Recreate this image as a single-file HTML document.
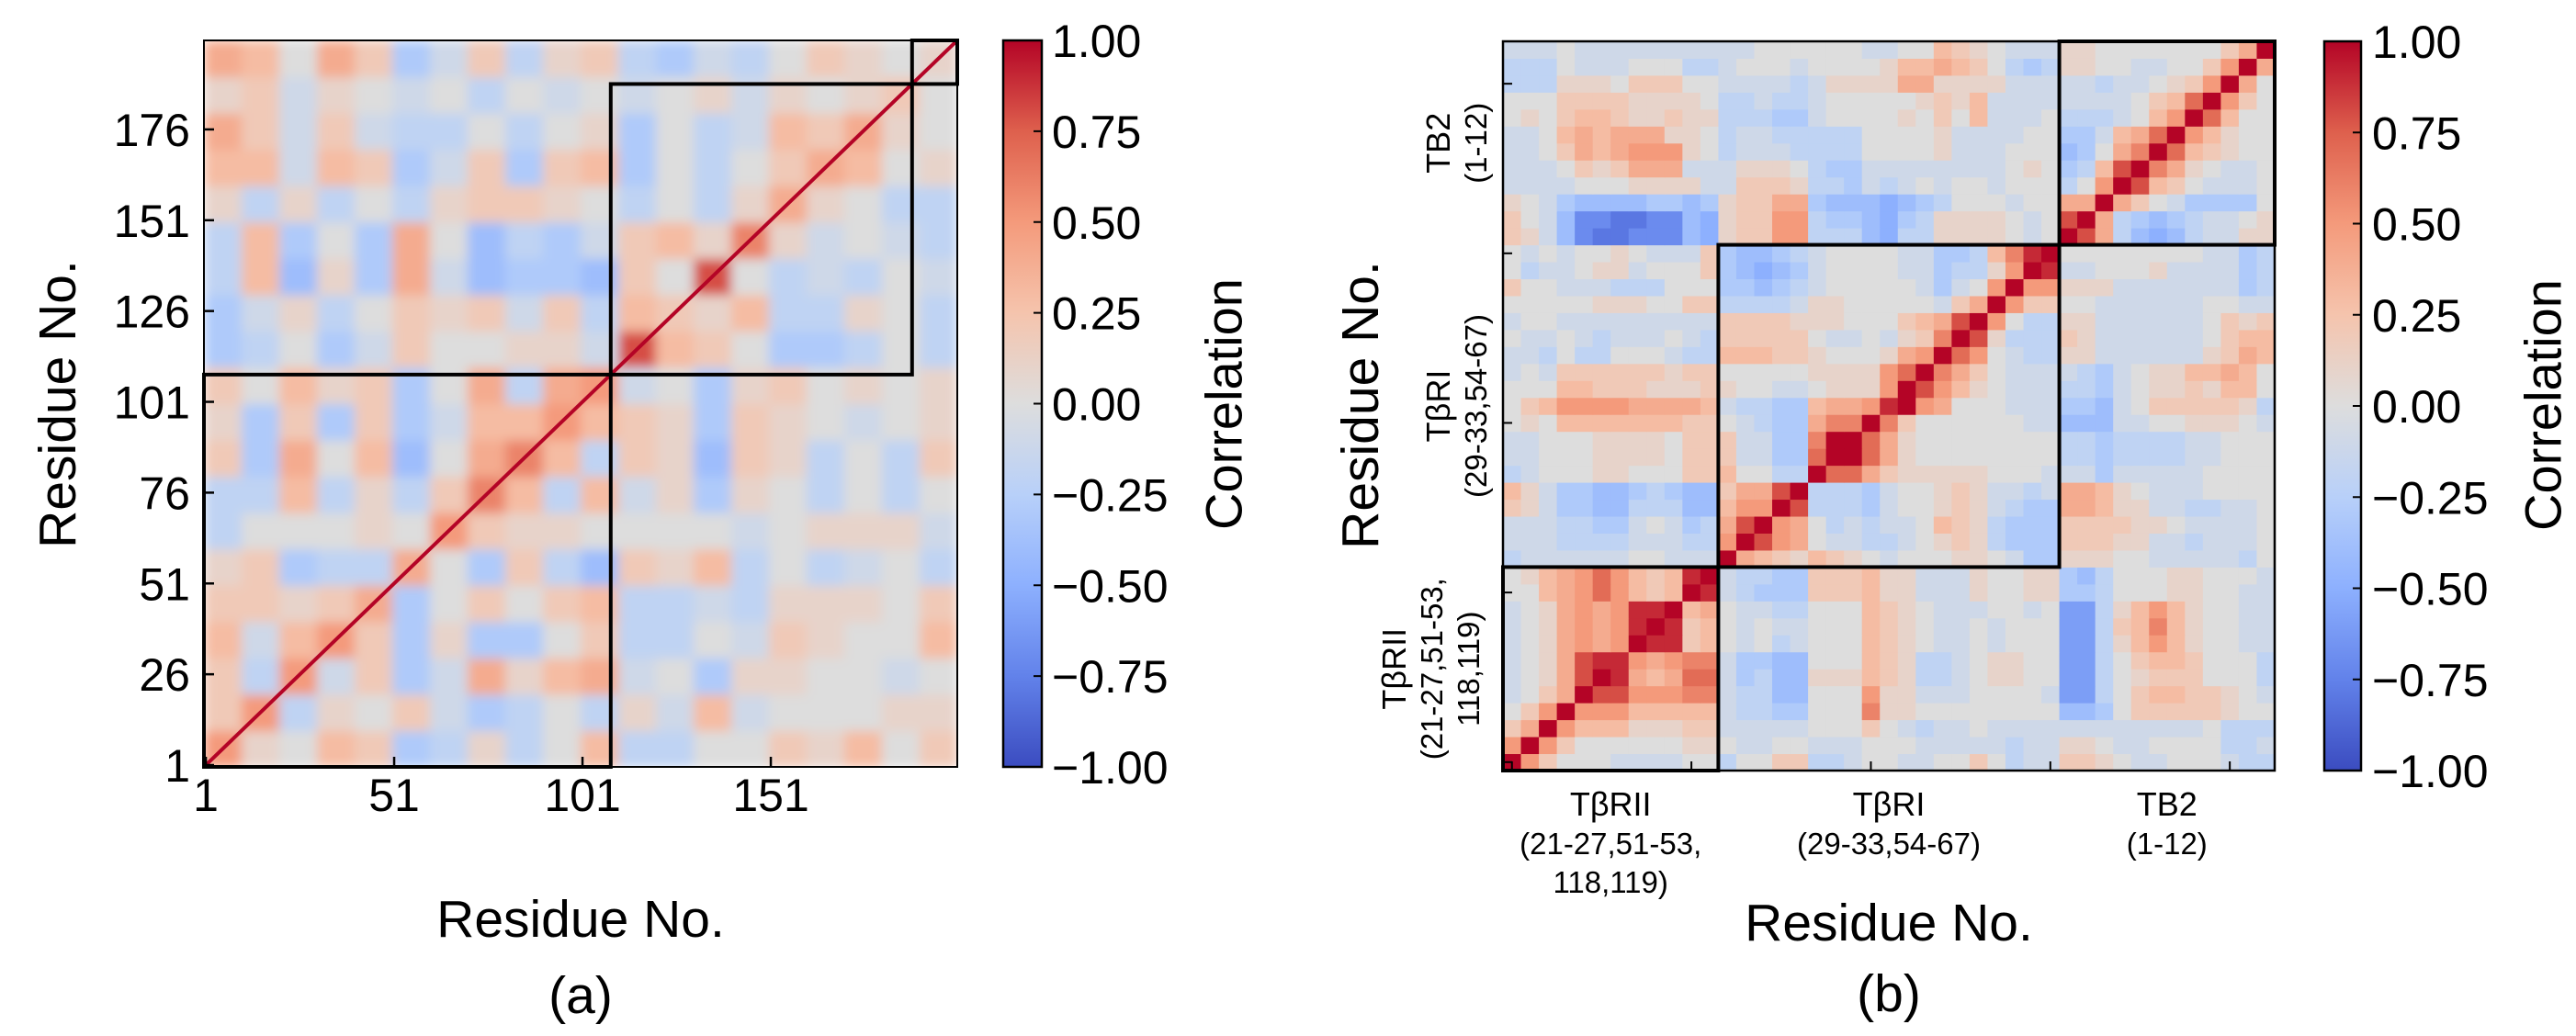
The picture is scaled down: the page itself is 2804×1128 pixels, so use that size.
<!DOCTYPE html>
<html><head><meta charset="utf-8"><style>
html,body{margin:0;padding:0;background:#fff;}
svg{display:block;font-family:"Liberation Sans",Arial,sans-serif;}
</style></head><body>
<svg id="fig" xmlns="http://www.w3.org/2000/svg" width="2804" height="1128" viewBox="0 0 2804 1128">
<defs>
<clipPath id="clipA"><rect x="222" y="44" width="820" height="791"/></clipPath>
<filter id="blurA" x="0" y="0" width="1" height="1"><feGaussianBlur stdDeviation="6" edgeMode="duplicate"/></filter>
<linearGradient id="cbgrad" x1="0" y1="1" x2="0" y2="0">
<stop offset="0" stop-color="rgb(59,76,192)"/><stop offset="0.125" stop-color="rgb(98,130,234)"/>
<stop offset="0.25" stop-color="rgb(141,176,254)"/><stop offset="0.375" stop-color="rgb(184,208,249)"/>
<stop offset="0.5" stop-color="rgb(221,221,221)"/><stop offset="0.625" stop-color="rgb(245,196,173)"/>
<stop offset="0.75" stop-color="rgb(244,154,123)"/><stop offset="0.875" stop-color="rgb(222,96,77)"/>
<stop offset="1" stop-color="rgb(180,4,38)"/></linearGradient>
</defs>
<g id="panelA">
<g clip-path="url(#clipA)"><g id="cellsA" filter="url(#blurA)"></g><g id="diagA"></g></g>
<g id="boxesA"></g><g id="axesA"></g>
</g>
<g id="panelB">
<g id="cellsB"></g><g id="boxesB"></g><g id="axesB"></g>
</g>
<g id="cbars"></g>
<g id="labels"></g>
</svg>
<script>
// encoding: 'a'=-1.0 ... 'k'=0 ... 'u'=+1.0 (step 0.1)
// Panel (a): 20x20 blocks of 10 residues, row 0 = residues 1-10 (bottom)
const heatA = [
"plknmhilikniikkmlnkm",
"mpilkmjhikiljnjkkkll",
"mipjmhjolnojkhllkkjk",
"njnpmhlhhkmiikjmlkkn",
"mmlmohkmkmniijilllkm",
"lmhiiokhmigmlnikijki",
"ikkklkpmllkkkkjklllj",
"iinilimqninjlhlkikik",
"mhokngkoqnimlgmlikim",
"lhmhmhjnnpnmlhmlkjkl",
"mknlmhkoiopjkhlmklkl",
"hikhjmkklljsnmkhhiki",
"hjlikmlmjminmlniilki",
"inglhojghhgmkskijikj",
"inhkhokgihjmnlqljkji",
"lilikilmmlkikilolkii",
"nnjnmhjmhmnhkikmonkl",
"omjmjiikiklhkijnmolk",
"lmjlkjkikjkjkljlklmk",
"onkomhjmilmihjikmlkl"
];
const residuesA = 200;
const blockA = 10;
const segmentsA = [[1,108],[109,188],[189,200]];
const xTicksA = [1,51,101,151];
const yTicksA = [1,26,51,76,101,126,151,176];
// Panel (b): 43x43, index 0..11 TβRII, 12..30 TβRI, 31..42 TB2; row 0 bottom
const heatB = [
"upmkkkjjjjkkikkmmiijkkjjkkmkijjmmlkjjkkkjii",
"pupmkkkkkkllkjjkkjjjkkkjjjjjijjllkjjkkkkiij",
"moupnnnlllmmjjjjjkkkmkjijjkjjjjjjjjjjjjkiii",
"kmpupppnnnnnjiihhkkkqllkkkkkkkkgghkmmmmmlkk",
"jkmousspppqqjiiggkkkplljjjkkkkjeeikmnnmmlkj",
"jklosutonorrjhigglllnmliijkllkkeeiklmmmkkki",
"jklosttpopqqjhhggkkknmliijkllkkeeikmnnmkkki",
"jklopoputtmnkjkijkkknmlkjjkjkkkeeilnpnlkkjj",
"jklopoptutmnkjkjjkkknmlkjjkjkkkeeimnqnlkkjj",
"jklopopttunokjjiikkknmlkjjjkkjkeeilnpnlkkjj",
"kknoprpnmnutjihhhmmmnlljjjlkkllhhikkkllkkjj",
"klnoprpnmntujiihhmmmnlljjjlkkllhgikkkllkkkj",
"ijjjjjjkkjjjuonmlnmlkjkkkllkjhhlllkkjjjjjik",
"jjjiiiijjjiipuspokjjiijklmlihhhmmmlljjijjjk",
"jjjiihhjkjhiosupokijijjknmlihhhmmmmllkjjjjk",
"mljhhggiiiggnppusiiihjkklmljihhoonlljjiijjk",
"nljhhgghihggmoosuiiihjkklmljjijoonlkjjjkkkk",
"ijkkkllkkkmmnkkiiurromlllllkkkjjjhjjjjjkkkk",
"jjkkkllllkmmmjjhhruurolkkkkkkkkiihiiiijjkkk",
"jjkkkllllkmmmjjhhquurolkkkkkkkkiihiiiijjkkk",
"klknnnnnnnmmkjihhoqquqmkkkkkkjjgggjjkklllkj",
"kmnppppoooonjiihhnooptupokkkjjjhhgjkmmmmmli",
"kkknnmmmlllmlkkjjklllpuspnlkjjjiihjkllmlnnk",
"jkjmmmmmmlmmkkkkkllllpruqomkjjjjihjkllnnonk",
"jjikiikkkjiinnnmmlkkklopurpkjiilljjjjjjlmon",
"kjjkjijjjkjimmmmmkjjkjlmqusliiimljjjjjjkmnn",
"jkkjjjjjjjjjmmmmlllkkkmnosupkiilljjjjjjkmlm",
"kkkkklllkkmmiiiijllkkkkkjmoupmmkkjjjjjjkkjj",
"mkkjjjiiikkkhhghijkkkkkjhjkpuppllljjjjjjjhi",
"kijjklljkkkmhgfghjkkkkjjhiilputjjkkkljjjjhi",
"kjkjkklkjjjmhgghijkkkkjjhhinqtukkkkkkkkjjhi",
"mljgdccdddgflmmppiiigfiillllkjkusoigfgijjll",
"mkjgddccddgflmmppihhgfhillllkjksuoihghijjkl",
"lkjhgggghhghlmmoohgggfghikkkjkkoouomkjhhhhk",
"jjjjkkklllljjmmmliihjijkjkkjkkkikpusnmkjjjk",
"jjjkmlmooojjjlllkihhjjjjjjjjklkhinsuqolkjjk",
"jjkmonoppplkijjjiiiikkkkljjjkkkghkoqurnmlkk",
"jjknonooollkijjiiiiikkkkljjjjkkhhjnorupnlkk",
"klkmnnmllmlliiihhjkkkklkmknjjjkiiijknpurnkk",
"kkkmmmmllllkiijiijkkkkklmlnjjjjjjjjkmnrupmk",
"iiilllkmmmkkjjjjijlllloolllljjjjjijjklmpuok",
"iiikjjjkkkiijkkkjkkkklnnonmkihillkkjjkkmpuo",
"jjjkjjjjjjjjjjkkkkkkjjkknmlkjjjllkkkkkkkmou"
];
const nB = 43;
const segmentsB = [[0,11],[12,30],[31,42]];
const ticksB = [0,10,20,30,40];
const cbTicks = [1.0,0.75,0.5,0.25,0.0,-0.25,-0.5,-0.75,-1.0];
const cbTickLabels = ["1.00","0.75","0.50","0.25","0.00","\u22120.25","\u22120.50","\u22120.75","\u22121.00"];
const groupLabelsB = [["T\u03b2RII","(21-27,51-53,","118,119)"],["T\u03b2RI","(29-33,54-67)"],["TB2","(1-12)"]];

const NS="http://www.w3.org/2000/svg";
function mk(tag,attrs,parent){const e=document.createElementNS(NS,tag);for(const k in attrs)e.setAttribute(k,attrs[k]);if(parent)parent.appendChild(e);return e;}
function dec(ch){return (ch.charCodeAt(0)-107)/10;}
const cwStops=[[-1,[59,76,192]],[-0.75,[98,130,234]],[-0.5,[141,176,254]],[-0.25,[184,208,249]],[0,[221,221,221]],[0.25,[245,196,173]],[0.5,[244,154,123]],[0.75,[222,96,77]],[1,[180,4,38]]];
function cw(v){v=Math.max(-1,Math.min(1,v));for(let i=0;i<cwStops.length-1;i++){const a=cwStops[i],b=cwStops[i+1];if(v<=b[0]){const t=(v-a[0])/(b[0]-a[0]);const c=a[1].map((x,k)=>Math.round(x+(b[1][k]-x)*t));return `rgb(${c[0]},${c[1]},${c[2]})`;}}return "rgb(180,4,38)";}

const A={x0:222,x1:1042,y0:44,y1:835};
const pxA=(A.x1-A.x0)/residuesA, pyA=(A.y1-A.y0)/residuesA;
function xA(r){return A.x0+(r-1)*pxA;}
function yA(r){return A.y1-r*pyA;}
const gCellsA=document.getElementById('cellsA');
heatA.forEach((row,i)=>{for(let j=0;j<row.length;j++){
  const r=mk('rect',{x:xA(j*blockA+1),y:yA((i+1)*blockA),width:blockA*pxA+0.6,height:blockA*pyA+0.6,fill:cw(dec(row[j]))},gCellsA);
  
  
}});
const dl=mk('line',{x1:xA(1),y1:yA(0),x2:xA(residuesA+1),y2:yA(residuesA),stroke:cw(1),'stroke-width':4},document.getElementById('diagA'));


const gBoxA=document.getElementById('boxesA');
mk('rect',{x:A.x0,y:A.y0,width:A.x1-A.x0,height:A.y1-A.y0,fill:'none',stroke:'#000','stroke-width':2},gBoxA);
segmentsA.forEach(s=>{const b=mk('rect',{x:xA(s[0]),y:yA(s[1]),width:(s[1]-s[0]+1)*pxA,height:(s[1]-s[0]+1)*pyA,fill:'none',stroke:'#000','stroke-width':4},gBoxA);
  
  });
const gAxA=document.getElementById('axesA');
xTicksA.forEach(t=>{const x=xA(t)+pxA/2;
  mk('line',{x1:x,y1:A.y1,x2:x,y2:A.y1-11,stroke:'#000','stroke-width':2.5},gAxA);
  const tx=mk('text',{x:x,y:883,'font-size':50,'text-anchor':'middle'},gAxA);tx.textContent=t;
  
  });
yTicksA.forEach(t=>{const y=yA(t)+pyA/2;
  mk('line',{x1:A.x0,y1:y,x2:A.x0+11,y2:y,stroke:'#000','stroke-width':2.5},gAxA);
  const tx=mk('text',{x:207,y:y+18,'font-size':50,'text-anchor':'end'},gAxA);tx.textContent=t;
  
  });

const B={x0:1636,x1:2476,y0:45,y1:839};
const cwB=(B.x1-B.x0)/nB, chB=(B.y1-B.y0)/nB;
function xB(i){return B.x0+i*cwB;}
function yB(i){return B.y1-(i+1)*chB;}
const gCellsB=document.getElementById('cellsB');
heatB.forEach((row,i)=>{for(let j=0;j<nB;j++){
  const ch=row[j]||'k';
  const r=mk('rect',{x:xB(j),y:yB(i),width:cwB+0.5,height:chB+0.5,fill:cw(dec(ch))},gCellsB);
  
  
}});
const gBoxB=document.getElementById('boxesB');
mk('rect',{x:B.x0,y:B.y0,width:B.x1-B.x0,height:B.y1-B.y0,fill:'none',stroke:'#000','stroke-width':2.5},gBoxB);
segmentsB.forEach(s=>{const b=mk('rect',{x:xB(s[0]),y:yB(s[1]),width:(s[1]-s[0]+1)*cwB,height:(s[1]-s[0]+1)*chB,fill:'none',stroke:'#000','stroke-width':4},gBoxB);
  
  });
const gAxB=document.getElementById('axesB');
ticksB.forEach(t=>{const x=xB(t)+cwB/2,y=yB(t)+chB/2;
  mk('line',{x1:x,y1:B.y1,x2:x,y2:B.y1-10,stroke:'#000','stroke-width':2},gAxB);
  mk('line',{x1:B.x0,y1:y,x2:B.x0+10,y2:y,stroke:'#000','stroke-width':2},gAxB);});
const gl=document.getElementById('labels');
segmentsB.forEach((s,k)=>{const cx=(xB(s[0])+xB(s[1]+1))/2;
  groupLabelsB[k].forEach((line,li)=>{const t=mk('text',{x:cx,y:888+li*42,'font-size':li==0?36:33,'text-anchor':'middle'},gl);t.textContent=line;
    
    });
  const cy=(yB(s[1])+yB(s[0])+chB)/2;
  const lines=groupLabelsB[k];const n=lines.length;
  lines.forEach((line,li)=>{const lx=(n==3?1530:1578)+li*40;
    const t=mk('text',{x:lx,y:cy,'font-size':li==0?36:33,'text-anchor':'middle',transform:`rotate(-90 ${lx} ${cy})`},gl);t.textContent=line;
    
    });
});

const gcb=document.getElementById('cbars');
[[1092,1134,44,835,1145],[2530,2570,45,839,2582]].forEach((c,ci)=>{
  const r=mk('rect',{x:c[0],y:c[2],width:c[1]-c[0],height:c[3]-c[2],fill:'url(#cbgrad)',stroke:'#000','stroke-width':2.5},gcb);
  
  
  cbTicks.forEach((v,k)=>{const y=c[3]-(v+1)/2*(c[3]-c[2]);
    mk('line',{x1:c[1]-9,y1:y,x2:c[1],y2:y,stroke:'#000','stroke-width':2},gcb);
    const t=mk('text',{x:c[4],y:y+18,'font-size':50},gcb);t.textContent=cbTickLabels[k];
    
    });
});

function title(txt,x,y,rot,size){const t=mk('text',{x:x,y:y,'font-size':size||57,'text-anchor':'middle','dominant-baseline':'central'},gl);
  if(rot)t.setAttribute('transform',`rotate(-90 ${x} ${y})`);t.textContent=txt;return t;}
let t;
t=title('Residue No.',63,440,true,57);
t=title('Residue No.',632,1001,false,57);
t=title('(a)',632,1084,false,57);
t=title('Correlation',1332,440,true,56);
t=title('Residue No.',1481,441,true,57);
t=title('Residue No.',2056,1005,false,57);
t=title('(b)',2056,1082,false,57);
t=title('Correlation',2768,441,true,56);
</script>
</body></html>
